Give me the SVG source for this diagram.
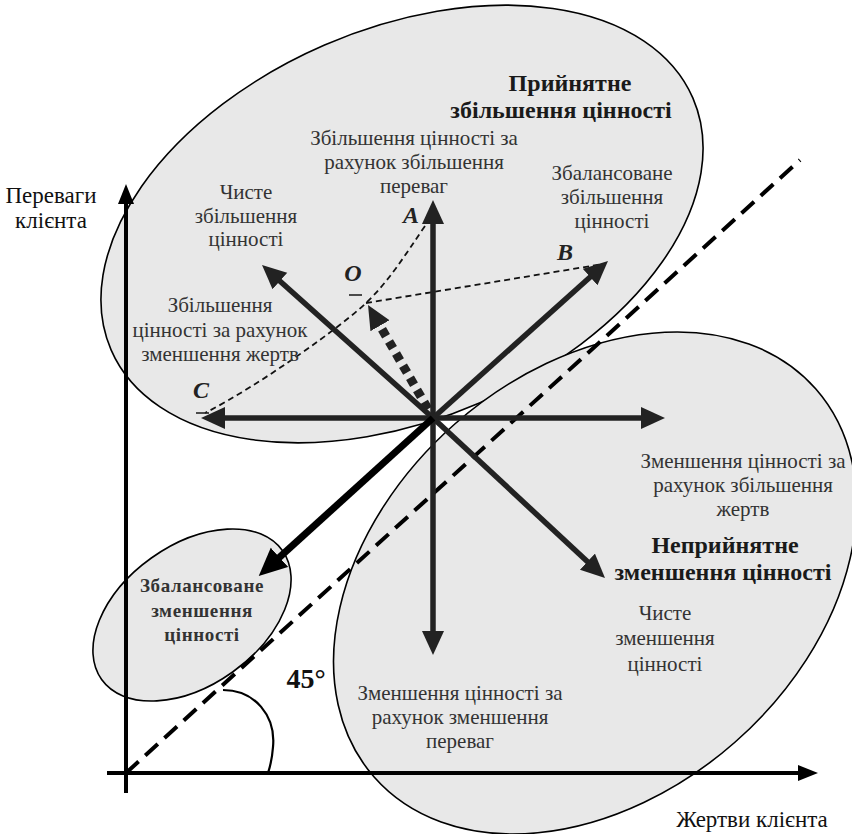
<svg xmlns="http://www.w3.org/2000/svg" width="852" height="834" viewBox="0 0 852 834">
<defs>
<style>
.zone{fill:#e8e8e8;stroke:#000;stroke-width:1.6}
.axis{stroke:#000;stroke-width:4;fill:none}
.vec{stroke:#222;stroke-width:5.5;fill:none}
.vecb{stroke:#000;stroke-width:7;fill:none}
.thin{stroke:#111;stroke-width:1.8;stroke-dasharray:6 4;fill:none}
.t{font-family:"Liberation Serif","Times New Roman",serif;font-size:21px;fill:#333;text-anchor:middle}
.ax{font-family:"Liberation Serif","Times New Roman",serif;font-size:23px;fill:#111;text-anchor:middle}
.b{font-family:"Liberation Serif","Times New Roman",serif;font-size:24px;font-weight:bold;fill:#1a1a1a;text-anchor:middle}
.sb{font-family:"Liberation Serif","Times New Roman",serif;font-size:19px;font-weight:bold;fill:#333;text-anchor:middle;letter-spacing:0.6px}
.pt{font-family:"Liberation Serif","Times New Roman",serif;font-size:24px;font-weight:bold;font-style:italic;fill:#222;text-anchor:middle}
</style>
<marker id="ah" markerUnits="userSpaceOnUse" markerWidth="26" markerHeight="24" refX="2" refY="11" orient="auto">
<path d="M0,0 L24,11 L0,22 z" fill="#222"/>
</marker>
<marker id="ahb" markerUnits="userSpaceOnUse" markerWidth="30" markerHeight="28" refX="2" refY="13" orient="auto">
<path d="M0,0 L28,13 L0,26 z" fill="#000"/>
</marker>
<marker id="axh" markerUnits="userSpaceOnUse" markerWidth="22" markerHeight="18" refX="2" refY="8" orient="auto">
<path d="M0,0 L20,8 L0,16 z" fill="#000"/>
</marker>
</defs>

<g id="zone-accept">
<ellipse class="zone" cx="402" cy="224" rx="317" ry="195" transform="rotate(-23.4 402 224)"/>
</g>
<g id="zone-reject">
<ellipse class="zone" cx="595" cy="583" rx="294" ry="212" transform="rotate(-41.3 595 583)"/>
</g>
<g id="zone-balanced-decrease">
<ellipse class="zone" cx="192" cy="615" rx="111" ry="70" transform="rotate(-35.5 192 615)"/>
</g>

<g id="axes">
<line class="axis" x1="126" y1="793" x2="126" y2="202" marker-end="url(#axh)"/>
<line class="axis" x1="107" y1="773" x2="800" y2="773" marker-end="url(#axh)"/>
<line x1="126" y1="773" x2="800" y2="160" stroke="#000" stroke-width="4" stroke-dasharray="17 9"/>
<path d="M223,690 C255,690 276,716 273,747 C272,760 270,767 268,773" fill="none" stroke="#000" stroke-width="2.2"/>
</g>

<g id="connectors">
<path class="thin" d="M425,226 C405,255 390,280 366,303 S260,385 205,413"/>
<line class="thin" x1="366" y1="303" x2="603" y2="264"/>
<line class="vec" x1="433" y1="418" x2="433" y2="222" marker-end="url(#ah)"/>
<line class="vec" x1="433" y1="418" x2="643" y2="418" marker-end="url(#ah)"/>
<line class="vec" x1="433" y1="418" x2="223" y2="418" marker-end="url(#ah)"/>
<line class="vec" x1="433" y1="418" x2="433" y2="633" marker-end="url(#ah)"/>
<line class="vec" x1="433" y1="418" x2="278.4" y2="279.7" marker-end="url(#ah)"/>
<line class="vec" x1="433" y1="418" x2="591.6" y2="275.7" marker-end="url(#ah)"/>
<line class="vec" x1="433" y1="418" x2="588.9" y2="563" marker-end="url(#ah)"/>
<line class="vecb" x1="433" y1="418" x2="278" y2="558.6" marker-end="url(#ahb)"/>
<line x1="428" y1="409" x2="379" y2="324" stroke="#222" stroke-width="9" stroke-dasharray="8 6" marker-end="url(#ah)"/>
</g>

<g id="points">
<text class="pt" x="411" y="223">A</text>
<text class="pt" x="565" y="260">B</text>
<text class="pt" x="353" y="281">O</text>
<line x1="349" y1="295" x2="362" y2="295" stroke="#222" stroke-width="1.6"/>
<text class="pt" x="201" y="398">C</text>
<line x1="196" y1="413" x2="209" y2="413" stroke="#222" stroke-width="1.6"/>
</g>

<g id="labels">
<text class="ax" x="51" y="203">Переваги</text>
<text class="ax" x="51" y="228">клієнта</text>
<text class="b" x="570" y="91">Прийнятне</text>
<text class="b" x="561" y="118">збільшення цінності</text>
<text class="t" x="414" y="145">Збільшення цінності за</text>
<text class="t" x="414" y="169">рахунок збільшення</text>
<text class="t" x="414" y="193">переваг</text>
<text class="t" x="246" y="199">Чисте</text>
<text class="t" x="246" y="223">збільшення</text>
<text class="t" x="246" y="246">цінності</text>
<text class="t" x="612" y="180">Збалансоване</text>
<text class="t" x="612" y="204">збільшення</text>
<text class="t" x="612" y="228">цінності</text>
<text class="t" x="220" y="312">Збільшення</text>
<text class="t" x="220" y="337">цінності за рахунок</text>
<text class="t" x="220" y="361">зменшення жертв</text>
<text class="t" x="743" y="468">Зменшення цінності за</text>
<text class="t" x="743" y="492">рахунок збільшення</text>
<text class="t" x="743" y="516">жертв</text>
<text class="b" x="725" y="553">Неприйнятне</text>
<text class="b" x="723" y="580">зменшення цінності</text>
<text class="t" x="665" y="620">Чисте</text>
<text class="t" x="665" y="645">зменшення</text>
<text class="t" x="665" y="671">цінності</text>
<text class="t" x="460" y="700">Зменшення цінності за</text>
<text class="t" x="460" y="724">рахунок зменшення</text>
<text class="t" x="460" y="748">переваг</text>
<text class="sb" x="202" y="592">Збалансоване</text>
<text class="sb" x="202" y="617">зменшення</text>
<text class="sb" x="202" y="641">цінності</text>
<text x="306" y="688" font-family="Liberation Serif, serif" font-size="28" font-weight="bold" fill="#111" text-anchor="middle">45°</text>
<text class="ax" x="752" y="827">Жертви клієнта</text>
</g>
</svg>
